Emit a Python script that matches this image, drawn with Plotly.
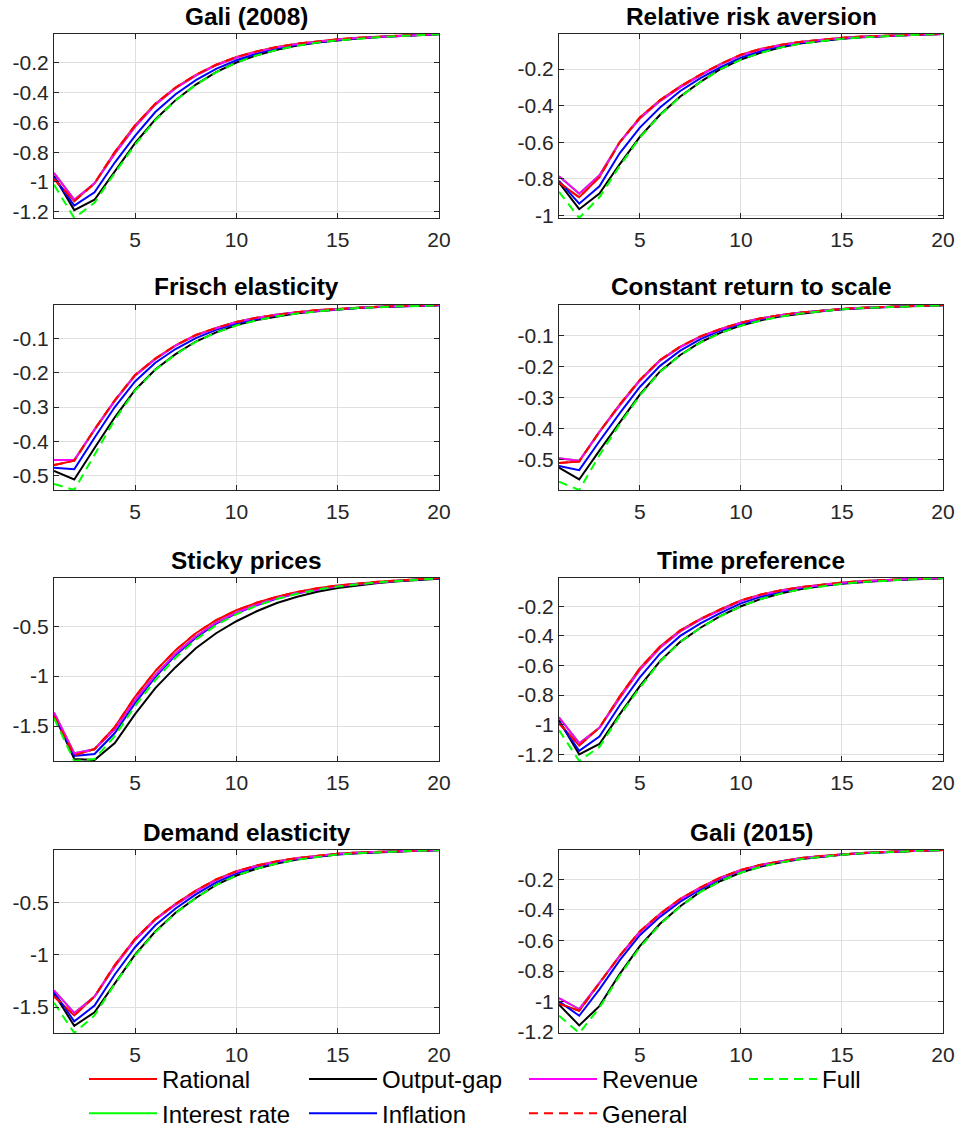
import plotly.graph_objects as go

# ---------------- data ----------------
periods = list(range(1, 21))
panel_titles = ["Gali (2008)", "Relative risk aversion", "Frisch elasticity",
                "Constant return to scale", "Sticky prices", "Time preference",
                "Demand elasticity", "Gali (2015)"]
series_names = ["Rational", "Interest rate", "Output-gap", "Inflation",
                "Revenue", "General", "Full"]

# Gali (2008)
g08_rational = [-0.98, -1.13, -1.01, -0.80, -0.62, -0.475, -0.365, -0.28, -0.212, -0.16, -0.122, -0.093, -0.07, -0.054, -0.041, -0.031, -0.023, -0.016, -0.010, -0.005]
g08_interest = [-0.94, -1.12, -1.01, -0.81, -0.63, -0.48, -0.37, -0.285, -0.215, -0.165, -0.125, -0.095, -0.072, -0.055, -0.042, -0.032, -0.024, -0.017, -0.011, -0.005]
g08_outputgap = [-0.96, -1.19, -1.12, -0.93, -0.74, -0.58, -0.45, -0.345, -0.262, -0.197, -0.148, -0.111, -0.083, -0.062, -0.047, -0.035, -0.026, -0.019, -0.013, -0.007]
g08_inflation = [-0.97, -1.16, -1.07, -0.87, -0.69, -0.53, -0.41, -0.315, -0.24, -0.182, -0.137, -0.103, -0.078, -0.059, -0.045, -0.034, -0.025, -0.018, -0.012, -0.006]
g08_revenue = [-0.94, -1.12, -1.01, -0.81, -0.63, -0.48, -0.37, -0.285, -0.215, -0.165, -0.125, -0.095, -0.072, -0.055, -0.042, -0.032, -0.024, -0.017, -0.011, -0.005]
g08_general = [-0.98, -1.13, -1.01, -0.80, -0.62, -0.475, -0.365, -0.28, -0.212, -0.16, -0.122, -0.093, -0.07, -0.054, -0.041, -0.031, -0.023, -0.016, -0.010, -0.005]
g08_full = [-1.02, -1.243, -1.14, -0.94, -0.75, -0.585, -0.452, -0.347, -0.263, -0.198, -0.149, -0.112, -0.084, -0.063, -0.048, -0.036, -0.027, -0.019, -0.013, -0.007]

# Relative risk aversion
rra_rational = [-0.82, -0.90, -0.79, -0.60, -0.465, -0.37, -0.295, -0.23, -0.172, -0.122, -0.09, -0.068, -0.051, -0.039, -0.030, -0.023, -0.018, -0.014, -0.011, -0.009]
rra_interest = [-0.785, -0.88, -0.78, -0.60, -0.47, -0.375, -0.30, -0.235, -0.175, -0.125, -0.092, -0.069, -0.052, -0.040, -0.031, -0.024, -0.019, -0.015, -0.012, -0.009]
rra_outputgap = [-0.82, -0.965, -0.88, -0.72, -0.57, -0.45, -0.35, -0.27, -0.20, -0.148, -0.11, -0.081, -0.06, -0.046, -0.035, -0.027, -0.021, -0.016, -0.012, -0.009]
rra_inflation = [-0.81, -0.935, -0.84, -0.66, -0.52, -0.41, -0.32, -0.25, -0.19, -0.138, -0.102, -0.076, -0.057, -0.043, -0.033, -0.026, -0.020, -0.015, -0.012, -0.009]
rra_revenue = [-0.785, -0.88, -0.78, -0.60, -0.47, -0.375, -0.30, -0.235, -0.175, -0.125, -0.092, -0.069, -0.052, -0.040, -0.031, -0.024, -0.019, -0.015, -0.012, -0.009]
rra_general = [-0.82, -0.90, -0.79, -0.60, -0.465, -0.37, -0.295, -0.23, -0.172, -0.122, -0.09, -0.068, -0.051, -0.039, -0.030, -0.023, -0.018, -0.014, -0.011, -0.009]
rra_full = [-0.87, -1.013, -0.90, -0.73, -0.575, -0.452, -0.352, -0.271, -0.201, -0.149, -0.111, -0.082, -0.061, -0.046, -0.035, -0.027, -0.021, -0.016, -0.012, -0.009]

# Frisch elasticity
fr_rational = [-0.47, -0.457, -0.365, -0.28, -0.206, -0.158, -0.119, -0.089, -0.068, -0.051, -0.038, -0.029, -0.022, -0.016, -0.012, -0.009, -0.006, -0.004, -0.003, -0.001]
fr_interest = [-0.455, -0.455, -0.367, -0.282, -0.208, -0.16, -0.12, -0.09, -0.069, -0.051, -0.039, -0.029, -0.022, -0.017, -0.012, -0.009, -0.006, -0.004, -0.003, -0.001]
fr_outputgap = [-0.487, -0.512, -0.42, -0.33, -0.25, -0.19, -0.145, -0.108, -0.081, -0.06, -0.045, -0.034, -0.025, -0.019, -0.014, -0.01, -0.007, -0.005, -0.004, -0.002]
fr_inflation = [-0.478, -0.482, -0.39, -0.30, -0.225, -0.17, -0.13, -0.098, -0.074, -0.055, -0.042, -0.031, -0.023, -0.018, -0.013, -0.01, -0.007, -0.005, -0.003, -0.002]
fr_revenue = [-0.455, -0.455, -0.367, -0.282, -0.208, -0.16, -0.12, -0.09, -0.069, -0.051, -0.039, -0.029, -0.022, -0.017, -0.012, -0.009, -0.006, -0.004, -0.003, -0.001]
fr_general = [-0.47, -0.457, -0.365, -0.28, -0.206, -0.158, -0.119, -0.089, -0.068, -0.051, -0.038, -0.029, -0.022, -0.016, -0.012, -0.009, -0.006, -0.004, -0.003, -0.001]
fr_full = [-0.525, -0.543, -0.44, -0.337, -0.252, -0.191, -0.146, -0.109, -0.082, -0.061, -0.046, -0.034, -0.026, -0.019, -0.014, -0.01, -0.007, -0.005, -0.004, -0.002]

# Constant return to scale
crs_rational = [-0.51, -0.505, -0.41, -0.322, -0.242, -0.178, -0.135, -0.102, -0.078, -0.058, -0.044, -0.033, -0.025, -0.019, -0.014, -0.01, -0.007, -0.005, -0.003, -0.001]
crs_interest = [-0.495, -0.503, -0.41, -0.325, -0.245, -0.18, -0.137, -0.103, -0.079, -0.058, -0.044, -0.033, -0.025, -0.019, -0.014, -0.01, -0.007, -0.005, -0.003, -0.001]
crs_outputgap = [-0.525, -0.563, -0.47, -0.38, -0.29, -0.215, -0.162, -0.121, -0.09, -0.067, -0.05, -0.037, -0.028, -0.021, -0.015, -0.011, -0.008, -0.006, -0.004, -0.002]
crs_inflation = [-0.52, -0.533, -0.44, -0.35, -0.265, -0.197, -0.148, -0.111, -0.083, -0.062, -0.047, -0.035, -0.026, -0.02, -0.015, -0.011, -0.008, -0.005, -0.003, -0.002]
crs_revenue = [-0.495, -0.503, -0.41, -0.325, -0.245, -0.18, -0.137, -0.103, -0.079, -0.058, -0.044, -0.033, -0.025, -0.019, -0.014, -0.01, -0.007, -0.005, -0.003, -0.001]
crs_general = [-0.51, -0.505, -0.41, -0.322, -0.242, -0.178, -0.135, -0.102, -0.078, -0.058, -0.044, -0.033, -0.025, -0.019, -0.014, -0.01, -0.007, -0.005, -0.003, -0.001]
crs_full = [-0.57, -0.597, -0.485, -0.385, -0.293, -0.217, -0.163, -0.122, -0.091, -0.068, -0.051, -0.038, -0.028, -0.021, -0.015, -0.011, -0.008, -0.006, -0.004, -0.002]

# Sticky prices
sp_rational = [-1.40, -1.793, -1.73, -1.51, -1.207, -0.95, -0.74, -0.57, -0.44, -0.34, -0.265, -0.205, -0.158, -0.12, -0.092, -0.07, -0.054, -0.041, -0.029, -0.017]
sp_interest = [-1.363, -1.773, -1.733, -1.533, -1.24, -0.99, -0.773, -0.60, -0.463, -0.363, -0.283, -0.217, -0.167, -0.13, -0.10, -0.077, -0.06, -0.045, -0.03, -0.017]
sp_outputgap = [-1.38, -1.83, -1.84, -1.67, -1.38, -1.12, -0.91, -0.72, -0.57, -0.45, -0.35, -0.268, -0.205, -0.155, -0.118, -0.09, -0.068, -0.05, -0.036, -0.024]
sp_inflation = [-1.38, -1.80, -1.78, -1.57, -1.27, -1.01, -0.79, -0.615, -0.475, -0.37, -0.29, -0.222, -0.17, -0.132, -0.10, -0.077, -0.059, -0.045, -0.031, -0.019]
sp_revenue = [-1.363, -1.773, -1.733, -1.533, -1.24, -0.99, -0.773, -0.60, -0.463, -0.363, -0.283, -0.217, -0.167, -0.13, -0.10, -0.077, -0.06, -0.045, -0.03, -0.017]
sp_general = [-1.40, -1.793, -1.73, -1.51, -1.207, -0.95, -0.74, -0.57, -0.44, -0.34, -0.265, -0.205, -0.158, -0.12, -0.092, -0.07, -0.054, -0.041, -0.029, -0.017]
sp_full = [-1.42, -1.85, -1.83, -1.60, -1.30, -1.04, -0.815, -0.635, -0.49, -0.38, -0.295, -0.228, -0.175, -0.134, -0.102, -0.078, -0.06, -0.046, -0.033, -0.021]

# Time preference
tp_rational = [-0.99, -1.14, -1.02, -0.81, -0.62, -0.472, -0.362, -0.285, -0.22, -0.16, -0.12, -0.092, -0.07, -0.054, -0.04, -0.03, -0.023, -0.017, -0.013, -0.009]
tp_interest = [-0.95, -1.125, -1.02, -0.82, -0.63, -0.48, -0.37, -0.29, -0.225, -0.165, -0.123, -0.094, -0.071, -0.055, -0.041, -0.031, -0.023, -0.017, -0.013, -0.009]
tp_outputgap = [-0.97, -1.20, -1.13, -0.93, -0.74, -0.57, -0.44, -0.345, -0.265, -0.20, -0.15, -0.112, -0.084, -0.063, -0.048, -0.036, -0.027, -0.02, -0.014, -0.01]
tp_inflation = [-0.98, -1.177, -1.08, -0.87, -0.68, -0.52, -0.40, -0.315, -0.245, -0.18, -0.135, -0.10, -0.077, -0.058, -0.044, -0.033, -0.025, -0.018, -0.013, -0.009]
tp_revenue = [-0.95, -1.125, -1.02, -0.82, -0.63, -0.48, -0.37, -0.29, -0.225, -0.165, -0.123, -0.094, -0.071, -0.055, -0.041, -0.031, -0.023, -0.017, -0.013, -0.009]
tp_general = [-0.99, -1.14, -1.02, -0.81, -0.62, -0.472, -0.362, -0.285, -0.22, -0.16, -0.12, -0.092, -0.07, -0.054, -0.04, -0.03, -0.023, -0.017, -0.013, -0.009]
tp_full = [-1.036, -1.245, -1.15, -0.94, -0.75, -0.575, -0.442, -0.346, -0.266, -0.201, -0.151, -0.113, -0.085, -0.064, -0.048, -0.036, -0.027, -0.02, -0.014, -0.01]

# Demand elasticity
de_rational = [-1.398, -1.58, -1.40, -1.10, -0.85, -0.66, -0.515, -0.39, -0.283, -0.205, -0.15, -0.11, -0.079, -0.056, -0.037, -0.026, -0.018, -0.012, -0.007, -0.002]
de_interest = [-1.341, -1.557, -1.40, -1.113, -0.86, -0.668, -0.525, -0.40, -0.29, -0.21, -0.154, -0.113, -0.081, -0.057, -0.038, -0.027, -0.019, -0.012, -0.007, -0.002]
de_outputgap = [-1.37, -1.68, -1.55, -1.27, -1.00, -0.78, -0.60, -0.46, -0.335, -0.245, -0.18, -0.13, -0.093, -0.066, -0.045, -0.032, -0.022, -0.014, -0.008, -0.004]
de_inflation = [-1.36, -1.637, -1.487, -1.19, -0.93, -0.72, -0.56, -0.425, -0.31, -0.225, -0.165, -0.12, -0.087, -0.062, -0.042, -0.03, -0.02, -0.013, -0.008, -0.003]
de_revenue = [-1.341, -1.557, -1.40, -1.113, -0.86, -0.668, -0.525, -0.40, -0.29, -0.21, -0.154, -0.113, -0.081, -0.057, -0.038, -0.027, -0.019, -0.012, -0.007, -0.002]
de_general = [-1.398, -1.58, -1.40, -1.10, -0.85, -0.66, -0.515, -0.39, -0.283, -0.205, -0.15, -0.11, -0.079, -0.056, -0.037, -0.026, -0.018, -0.012, -0.007, -0.002]
de_full = [-1.46, -1.748, -1.58, -1.28, -1.01, -0.785, -0.605, -0.462, -0.337, -0.246, -0.181, -0.131, -0.094, -0.066, -0.045, -0.032, -0.022, -0.014, -0.008, -0.004]

# Gali (2015)
g15_rational = [-1.014, -1.06, -0.88, -0.70, -0.54, -0.425, -0.327, -0.252, -0.187, -0.137, -0.103, -0.079, -0.06, -0.046, -0.035, -0.027, -0.02, -0.015, -0.011, -0.007]
g15_interest = [-0.977, -1.049, -0.878, -0.703, -0.546, -0.43, -0.331, -0.255, -0.19, -0.14, -0.105, -0.08, -0.06, -0.047, -0.036, -0.027, -0.02, -0.015, -0.011, -0.007]
g15_outputgap = [-1.02, -1.156, -1.03, -0.82, -0.637, -0.49, -0.375, -0.28, -0.21, -0.155, -0.115, -0.087, -0.066, -0.05, -0.038, -0.029, -0.022, -0.016, -0.011, -0.007]
g15_inflation = [-0.999, -1.093, -0.92, -0.73, -0.565, -0.445, -0.345, -0.265, -0.195, -0.142, -0.108, -0.082, -0.062, -0.048, -0.037, -0.028, -0.021, -0.015, -0.011, -0.007]
g15_revenue = [-0.977, -1.049, -0.878, -0.703, -0.546, -0.43, -0.331, -0.255, -0.19, -0.14, -0.105, -0.08, -0.06, -0.047, -0.036, -0.027, -0.02, -0.015, -0.011, -0.007]
g15_general = [-1.014, -1.06, -0.88, -0.70, -0.54, -0.425, -0.327, -0.252, -0.187, -0.137, -0.103, -0.079, -0.06, -0.046, -0.035, -0.027, -0.02, -0.015, -0.011, -0.007]
g15_full = [-1.093, -1.206, -1.04, -0.83, -0.645, -0.495, -0.378, -0.282, -0.211, -0.156, -0.116, -0.088, -0.066, -0.05, -0.038, -0.029, -0.022, -0.016, -0.011, -0.007]

# tick labels
x_ticks = [5, 10, 15, 20]
yticks_g08 = [-1.2, -1, -0.8, -0.6, -0.4, -0.2]
yticks_rra = [-1, -0.8, -0.6, -0.4, -0.2]
yticks_fr = [-0.5, -0.4, -0.3, -0.2, -0.1]
yticks_crs = [-0.5, -0.4, -0.3, -0.2, -0.1]
yticks_sp = [-1.5, -1, -0.5]
yticks_tp = [-1.2, -1, -0.8, -0.6, -0.4, -0.2]
yticks_de = [-1.5, -1, -0.5]
yticks_g15 = [-1.2, -1, -0.8, -0.6, -0.4, -0.2]

panels = [
    [g08_rational, g08_interest, g08_outputgap, g08_inflation, g08_revenue, g08_general, g08_full],
    [rra_rational, rra_interest, rra_outputgap, rra_inflation, rra_revenue, rra_general, rra_full],
    [fr_rational, fr_interest, fr_outputgap, fr_inflation, fr_revenue, fr_general, fr_full],
    [crs_rational, crs_interest, crs_outputgap, crs_inflation, crs_revenue, crs_general, crs_full],
    [sp_rational, sp_interest, sp_outputgap, sp_inflation, sp_revenue, sp_general, sp_full],
    [tp_rational, tp_interest, tp_outputgap, tp_inflation, tp_revenue, tp_general, tp_full],
    [de_rational, de_interest, de_outputgap, de_inflation, de_revenue, de_general, de_full],
    [g15_rational, g15_interest, g15_outputgap, g15_inflation, g15_revenue, g15_general, g15_full],
]
panel_yticks = [yticks_g08, yticks_rra, yticks_fr, yticks_crs, yticks_sp, yticks_tp, yticks_de, yticks_g15]

# ---------------- style ----------------
W, H = 958, 1128
series_style = {
    "Rational": dict(color="#ff0000", dash="solid", rank=1),
    "Interest rate": dict(color="#00ff00", dash="solid", rank=5),
    "Output-gap": dict(color="#000000", dash="solid", rank=2),
    "Inflation": dict(color="#0000ff", dash="solid", rank=6),
    "Revenue": dict(color="#ff00ff", dash="solid", rank=3),
    "General": dict(color="#ff0000", dash="9px,6px", rank=7),
    "Full": dict(color="#00ff00", dash="9px,6px", rank=4),
}
col_px = [(54, 439), (559, 943)]
row_px = [(34, 218), (305, 490), (578, 761), (850, 1033)]
axis_col = "#262626"
font_fam = "Arial, Liberation Sans, Helvetica, sans-serif"

fig = go.Figure()
layout = dict(
    width=W, height=H,
    margin=dict(l=0, r=0, t=0, b=0, autoexpand=False),
    paper_bgcolor="white", plot_bgcolor="white",
    font=dict(family=font_fam, color=axis_col),
    showlegend=True,
    legend=dict(
        orientation="h", x=84 / W, y=1 - 1057 / H, xanchor="left", yanchor="top",
        font=dict(size=24, color="#000000", family=font_fam),
        itemwidth=68, entrywidth=137, bgcolor="rgba(0,0,0,0)",
        traceorder="normal", itemclick=False, itemdoubleclick=False,
    ),
    annotations=[],
)

for p in range(8):
    r, c = divmod(p, 2)
    ax = "" if p == 0 else str(p + 1)
    x0, x1 = col_px[c]
    ytop, ybot = row_px[r]
    for name, vals in zip(series_names, panels[p]):
        st = series_style[name]
        fig.add_trace(go.Scatter(
            x=periods, y=vals, mode="lines", name=name,
            line=dict(color=st["color"], width=2, dash=st["dash"]),
            legendrank=st["rank"], showlegend=(p == 0), legendgroup=name,
            xaxis="x" + ax, yaxis="y" + ax, hoverinfo="skip",
        ))
    allv = [v for s in panels[p] for v in s]
    common = dict(
        showline=True, linecolor=axis_col, linewidth=1, mirror="ticks",
        ticks="inside", ticklen=5, tickcolor=axis_col, tickwidth=1,
        showgrid=True, gridcolor="#dfdfdf", gridwidth=1, zeroline=False,
        tickfont=dict(size=21, color=axis_col, family=font_fam),
        fixedrange=True,
    )
    layout["xaxis" + ax] = dict(
        common, domain=[x0 / W, x1 / W], range=[1, 20],
        tickmode="array", tickvals=x_ticks, ticktext=[str(t) for t in x_ticks],
        anchor="y" + ax, ticklabelstandoff=3,
    )
    yt = panel_yticks[p]
    layout["yaxis" + ax] = dict(
        common, domain=[1 - ybot / H, 1 - ytop / H], range=[min(allv), max(allv)],
        tickmode="array", tickvals=yt, ticktext=[f"{t:g}" for t in yt],
        anchor="x" + ax,
    )
    layout["annotations"].append(dict(
        text="<b>" + panel_titles[p] + "</b>", xref="paper", yref="paper",
        x=(x0 + x1) / 2 / W, y=1 - ytop / H, xanchor="center", yanchor="middle",
        yshift=18, showarrow=False, font=dict(size=24.4, color="#000000", family=font_fam),
    ))

fig.update_layout(**layout)
fig.write_html("out.html", config={"displayModeBar": False, "staticPlot": False},
               post_script="document.body.style.margin='0px';")
